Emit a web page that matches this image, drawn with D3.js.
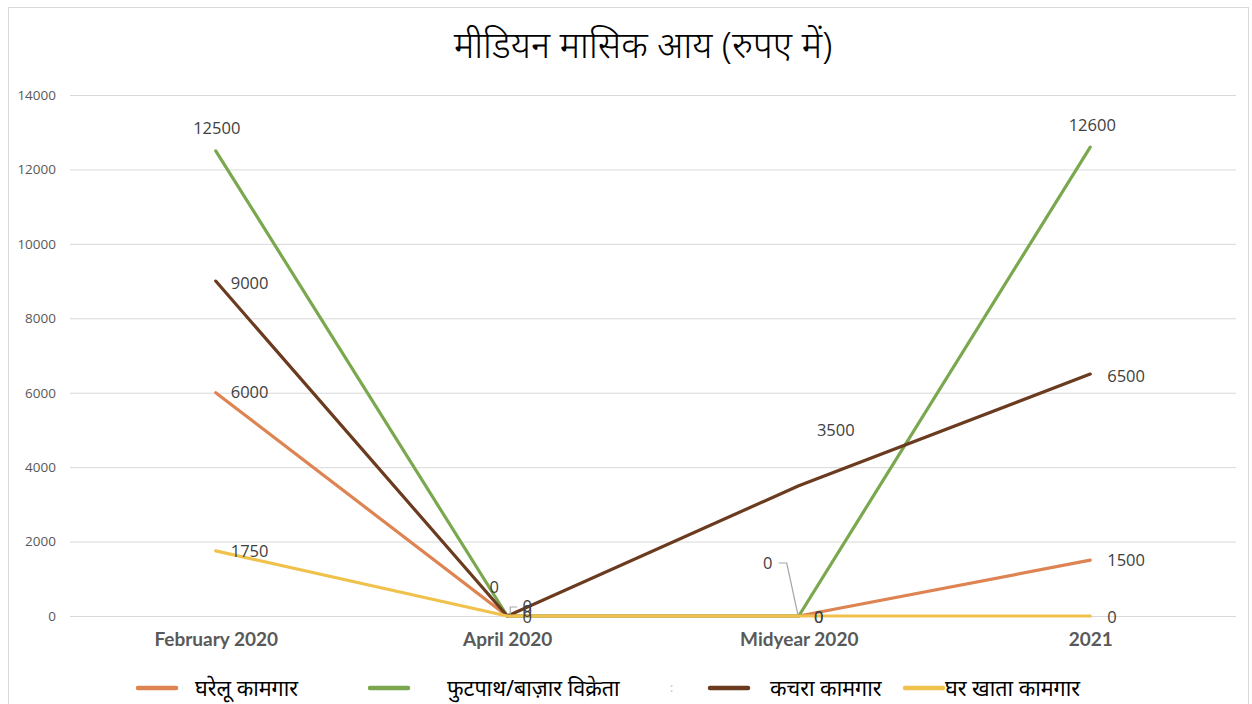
<!DOCTYPE html>
<html><head><meta charset="utf-8">
<script src="https://cdn.jsdelivr.net/npm/d3@7"></script>
<style>
body{margin:0;background:#fff;}
svg{display:block;}
</style></head>
<body>
<svg id="chart" width="1252" height="704"></svg>
<script>
const title = "मीडियन मासिक आय (रुपए में)";
const categories = ["February 2020", "April 2020", "Midyear 2020", "2021"];
const seriesNames = ["घरेलू कामगार", "फुटपाथ/बाज़ार विक्रेता", "कचरा कामगार", "घर खाता कामगार"];
const domesticWorkers = [6000, 0, 0, 1500];
const streetVendors = [12500, 0, 0, 12600];
const wastePickers = [9000, 0, 3500, 6500];
const homeWorkers = [1750, 0, 0, 0];
const yTicks = [0, 2000, 4000, 6000, 8000, 10000, 12000, 14000];
const colors = ["#DD8452", "#7BA84F", "#6B3B1F", "#F0C24C"];

const series = [domesticWorkers, streetVendors, wastePickers, homeWorkers];

const svg = d3.select("#chart");
const font = "'Noto Sans', 'Open Sans', sans-serif";

// frame
svg.append("rect").attr("x", 8.5).attr("y", 7.5).attr("width", 1240).attr("height", 710)
  .attr("fill", "none").attr("stroke", "#d9d9d9").attr("stroke-width", 1);

const x = d3.scalePoint().domain(categories).range([70, 1236]).padding(0.5);
const y = d3.scaleLinear().domain([0, 14000]).range([616, 95]);

// gridlines
const grid = svg.append("g").attr("transform", "translate(70,0)")
  .call(d3.axisLeft(y).tickValues(yTicks).tickSize(-(1236 - 70)).tickFormat(""));
grid.select(".domain").remove();
grid.selectAll(".tick line").attr("stroke", "#d9d9d9").attr("stroke-width", 1);

// y axis labels
const yAx = svg.append("g").attr("transform", "translate(56,0)")
  .call(d3.axisLeft(y).tickValues(yTicks).tickSize(0).tickPadding(0).tickFormat(d3.format("d")));
yAx.select(".domain").remove();
yAx.selectAll("text").attr("font-family", "'Open Sans', sans-serif").attr("font-size", 13.5).attr("fill", "#595959");

// x axis labels
const xAx = svg.append("g").attr("transform", "translate(0,616)")
  .call(d3.axisBottom(x).tickSize(0).tickPadding(17));
xAx.select(".domain").remove();
xAx.selectAll("text").attr("font-family", "Lato, sans-serif").attr("font-weight", "bold")
  .attr("font-size", 19).attr("fill", "#595959");

// title
svg.append("text").attr("x", 643).attr("y", 58).attr("text-anchor", "middle")
  .attr("font-family", font).attr("font-size", 36.5).attr("font-weight", 300).attr("fill", "#000").text(title);

// lines
const line = d3.line().x((d, i) => x(categories[i])).y(d => y(d));
[0, 1, 2, 3].forEach(s => {
  svg.append("path").datum(series[s]).attr("d", line)
    .attr("fill", "none").attr("stroke", colors[s]).attr("stroke-width", 3.2)
    .attr("stroke-linecap", "round").attr("stroke-linejoin", "round");
});

// data label offsets relative to each point: [dx, dy, anchor]
const labelOffsets = [
  [[15, 0, "start"], [20, -10, "middle"], [20, 1, "middle"], [17, 0, "start"]],
  [[1, -23, "middle"], [-13, -29, "middle"], [-31, -53, "middle"], [2, -22, "middle"]],
  [[15, 2, "start"], [20, -5, "middle"], [37, -56, "middle"], [17, 2, "start"]],
  [[15, 0, "start"], [20, 1, "middle"], [20, 1, "middle"], [17, 1, "start"]]
];
const labelG = svg.append("g").attr("font-family", "'Open Sans', sans-serif").attr("font-size", 16.5).attr("fill", "#404040");
series.forEach((vals, s) => {
  vals.forEach((v, i) => {
    const o = labelOffsets[s][i];
    labelG.append("text").attr("x", x(categories[i]) + o[0]).attr("y", y(v) + o[1])
      .attr("text-anchor", o[2]).attr("dy", "0.35em").text(v);
  });
});

// leader lines
svg.append("path")
  .attr("d", `M${x(categories[2]) - 20},${y(0) - 53} h8 L${x(categories[2]) - 1},${y(0) - 2}`)
  .attr("fill", "none").attr("stroke", "#a6a6a6").attr("stroke-width", 1.2);
svg.append("path")
  .attr("d", `M${x(categories[1]) + 3},${y(0) - 2} L${x(categories[1]) + 3},${y(0) - 9} h7`)
  .attr("fill", "none").attr("stroke", "#a6a6a6").attr("stroke-width", 1.2);

// legend
const legendPos = [[138, 195], [370, 447], [710, 770], [905, 945]];
const lg = svg.append("g");
seriesNames.forEach((n, i) => {
  const [lx, tx] = legendPos[i];
  lg.append("line").attr("x1", lx).attr("x2", lx + 38).attr("y1", 688).attr("y2", 688)
    .attr("stroke", colors[i]).attr("stroke-width", 4.5).attr("stroke-linecap", "round");
  lg.append("text").attr("x", tx).attr("y", 688).attr("dy", "0.35em")
    .attr("font-family", font).attr("font-size", 21.5).attr("fill", "#000").text(n);
});
lg.append("text").attr("x", 670).attr("y", 688).attr("dy", "0.35em")
  .attr("font-family", font).attr("font-size", 12).attr("fill", "#bfbfbf").text(":");
</script>
</body></html>
